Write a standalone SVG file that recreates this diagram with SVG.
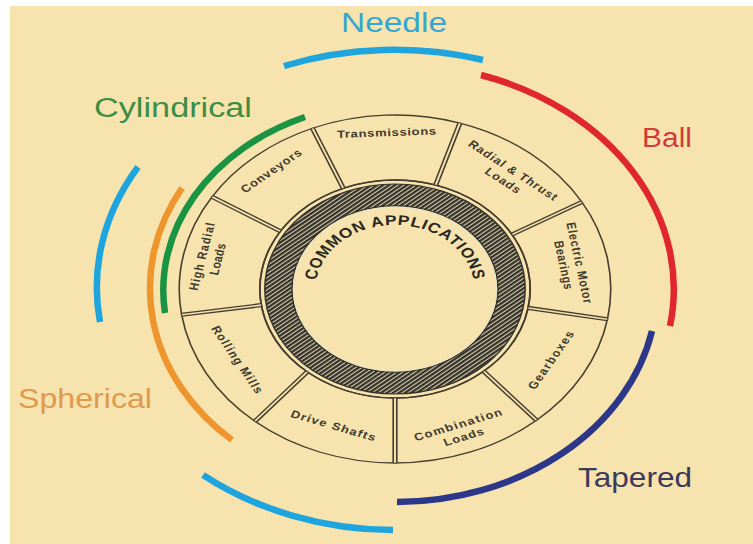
<svg xmlns="http://www.w3.org/2000/svg" width="753" height="544" viewBox="0 0 753 544">
  <defs>
    <pattern id="hatch" patternUnits="userSpaceOnUse" width="3.1" height="3.1" patternTransform="rotate(-40)">
      <rect width="3.1" height="3.1" fill="#d9d0ad"/>
      <rect width="3.1" height="2.1" fill="#34312a"/>
    </pattern>
  </defs>
  <style>
    .band { fill: none; stroke-width: 6.5; stroke-linecap: butt; }
    .type { font-family: "Liberation Sans", "DejaVu Sans", sans-serif; font-size: 27px; }
    .seg { fill: none; stroke: #463f30; stroke-width: 1.3; }
    .div-dark { stroke: #463f30; stroke-width: 4.2; }
    .div-light { stroke: #f5e2ac; stroke-width: 1.6; }
    .lbl { font-family: "Liberation Sans", "DejaVu Sans", sans-serif; font-size: 10.5px; font-weight: bold; fill: #403a2e; text-anchor: middle; }
    .title { font-family: "Liberation Sans", "DejaVu Sans", sans-serif; font-size: 14px; font-weight: bold; fill: #2a2721; letter-spacing: 0.6px; }
  </style>

  <!-- paper -->
  <rect width="753" height="544" fill="#ffffff"/>
  <rect x="10" y="6" width="743" height="538" fill="#f7e3ad"/>

  <!-- bearing types: coloured bands with their names -->
  <g id="needle">
    <path class="band" stroke="#1ea5de" d="M 284 66 A 306 240 0 0 1 483 60"/>
    <path class="band" stroke="#1ea5de" d="M 100 322 A 300 238 0 0 1 138 167"/>
    <path class="band" stroke="#1ea5de" d="M 393 530 A 302 240 0 0 1 203 475"/>
    <text class="type" x="341" y="32" textLength="106" lengthAdjust="spacingAndGlyphs" fill="#35a6d4">Needle</text>
  </g>
  <g id="ball">
    <path class="band" stroke="#e0262f" d="M 481 75 A 279 225 0 0 1 670 326"/>
    <text class="type" x="642" y="147" textLength="50" lengthAdjust="spacingAndGlyphs" fill="#d23a3c">Ball</text>
  </g>
  <g id="tapered">
    <path class="band" stroke="#2d3789" d="M 652 331 A 261 213 0 0 1 397 502"/>
    <text class="type" x="578" y="487" textLength="114" lengthAdjust="spacingAndGlyphs" fill="#3a3b5c" style="font-size:28px">Tapered</text>
  </g>
  <g id="spherical">
    <path class="band" stroke="#ef952d" d="M 232 440 A 245 203 0 0 1 182 188"/>
    <text class="type" x="18" y="408" textLength="134" lengthAdjust="spacingAndGlyphs" fill="#df9a4e">Spherical</text>
  </g>
  <g id="cylindrical">
    <path class="band" stroke="#1a9442" d="M 165 313 A 232 188 0 0 1 305 117"/>
    <text class="type" x="94" y="117" textLength="158" lengthAdjust="spacingAndGlyphs" fill="#3d8d45">Cylindrical</text>
  </g>

  <!-- application wheel, drawn on a unit circle and widened -->
  <g id="wheel" transform="translate(395 289) scale(1.24 1)">
    <g id="hub">
      <circle r="109" fill="none" stroke="#463f30" stroke-width="1.4"/>
      <path d="M -105 0 A 105 105 0 1 0 105 0 A 105 105 0 1 0 -105 0 Z M -83 0 A 83 83 0 1 0 83 0 A 83 83 0 1 0 -83 0 Z" fill="url(#hatch)" fill-rule="evenodd" stroke="#34312a" stroke-width="1.2"/>
      <circle r="81.8" fill="none" stroke="#ede3c0" stroke-width="1.4"/>
      <path id="titleArc" d="M -64 0 A 64 64 0 0 1 64 0" fill="none"/>
      <text class="title"><textPath href="#titleArc" startOffset="50%" text-anchor="middle">COMMON APPLICATIONS</textPath></text>
    </g>

    <g id="transmissions">
      <path class="seg" d="M -41.71 -100.70 L -66.59 -160.76 A 174 174 0 0 1 52.32 -165.95 L 32.78 -103.96 A 109 109 0 0 0 -41.71 -100.70 Z"/>
      <g transform="rotate(267.5) translate(157 0) rotate(90)">
        <text class="lbl" y="4" textLength="80">Transmissions</text>
      </g>
    </g>
    <g id="radial-thrust">
      <path class="seg" d="M 32.78 -103.96 L 52.32 -165.95 A 174 174 0 0 1 150.69 -87 L 94.40 -54.5 A 109 109 0 0 0 32.78 -103.96 Z"/>
      <g transform="rotate(308.75) translate(146 0) rotate(90)">
        <text class="lbl" y="-2.5" textLength="89">Radial &amp; Thrust</text>
        <text class="lbl" y="10.5" textLength="34">Loads</text>
      </g>
    </g>
    <g id="electric-motor">
      <path class="seg" d="M 94.40 -54.5 L 150.69 -87 A 174 174 0 0 1 171.36 30.22 L 107.34 18.93 A 109 109 0 0 0 94.40 -54.5 Z"/>
      <g transform="rotate(350) translate(145 0) rotate(90)">
        <text class="lbl" y="-2.5" textLength="82">Electric Motor</text>
        <text class="lbl" y="10.5" textLength="49">Bearings</text>
      </g>
    </g>
    <g id="gearboxes">
      <path class="seg" d="M 107.34 18.93 L 171.36 30.22 A 174 174 0 0 1 114.15 131.32 L 71.51 82.26 A 109 109 0 0 0 107.34 18.93 Z"/>
      <g transform="rotate(29.5) translate(144 0) rotate(-90)">
        <text class="lbl" y="4" textLength="65">Gearboxes</text>
      </g>
    </g>
    <g id="combination">
      <path class="seg" d="M 71.51 82.26 L 114.15 131.32 A 174 174 0 0 1 0 174 L 0 109 A 109 109 0 0 0 71.51 82.26 Z"/>
      <g transform="rotate(69.5) translate(151 0) rotate(-90)">
        <text class="lbl" y="-2.5" textLength="75">Combination</text>
        <text class="lbl" y="10.5" textLength="34">Loads</text>
      </g>
    </g>
    <g id="drive-shafts">
      <path class="seg" d="M 0 109 L 0 174 A 174 174 0 0 1 -113.00 132.31 L -70.79 82.88 A 109 109 0 0 0 0 109 Z"/>
      <g transform="rotate(110) translate(145 0) rotate(-90)">
        <text class="lbl" y="4" textLength="72">Drive Shafts</text>
      </g>
    </g>
    <g id="rolling-mills">
      <path class="seg" d="M -70.79 82.88 L -113.00 132.31 A 174 174 0 0 1 -172.09 25.72 L -107.80 16.11 A 109 109 0 0 0 -70.79 82.88 Z"/>
      <g transform="rotate(151) translate(145 0) rotate(-90)">
        <text class="lbl" y="4" textLength="75">Rolling Mills</text>
      </g>
    </g>
    <g id="high-radial">
      <path class="seg" d="M -107.80 16.11 L -172.09 25.72 A 174 174 0 0 1 -147.56 -92.21 L -92.44 -57.76 A 109 109 0 0 0 -107.80 16.11 Z"/>
      <g transform="rotate(191.75) translate(153 0) rotate(90)">
        <text class="lbl" y="-2.5" textLength="69">High Radial</text>
        <text class="lbl" y="10.5" textLength="32">Loads</text>
      </g>
    </g>
    <g id="conveyors">
      <path class="seg" d="M -92.44 -57.76 L -147.56 -92.21 A 174 174 0 0 1 -66.59 -160.76 L -41.71 -100.70 A 109 109 0 0 0 -92.44 -57.76 Z"/>
      <g transform="rotate(229.75) translate(155 0) rotate(90)">
        <text class="lbl" y="4" textLength="61">Conveyors</text>
      </g>
    </g>

    <!-- double-rule dividers between the segments -->
    <g id="dividers">
      <g class="div-dark">
        <line x1="107.34" y1="18.93" x2="171.36" y2="30.22"/>
        <line x1="71.51" y1="82.26" x2="114.15" y2="131.32"/>
        <line x1="0" y1="109" x2="0" y2="174"/>
        <line x1="-70.79" y1="82.88" x2="-113.00" y2="132.31"/>
        <line x1="-107.80" y1="16.11" x2="-172.09" y2="25.72"/>
        <line x1="-92.44" y1="-57.76" x2="-147.56" y2="-92.21"/>
        <line x1="-41.71" y1="-100.70" x2="-66.59" y2="-160.76"/>
        <line x1="32.78" y1="-103.96" x2="52.32" y2="-165.95"/>
        <line x1="94.40" y1="-54.5" x2="150.69" y2="-87"/>
      </g>
      <g class="div-light">
        <line x1="107.6" y1="18.97" x2="171.1" y2="30.17"/>
        <line x1="71.7" y1="82.5" x2="113.95" y2="131.1"/>
        <line x1="0" y1="109.3" x2="0" y2="173.7"/>
        <line x1="-70.98" y1="83.1" x2="-112.8" y2="132.08"/>
        <line x1="-108.1" y1="16.16" x2="-171.8" y2="25.68"/>
        <line x1="-92.7" y1="-57.92" x2="-147.3" y2="-92.05"/>
        <line x1="-41.83" y1="-100.98" x2="-66.47" y2="-160.48"/>
        <line x1="32.87" y1="-104.24" x2="52.23" y2="-165.67"/>
        <line x1="94.66" y1="-54.65" x2="150.43" y2="-86.85"/>
      </g>
    </g>
  </g>
</svg>
